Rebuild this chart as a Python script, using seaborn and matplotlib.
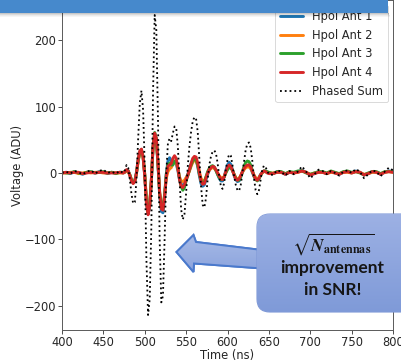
import numpy as np
import pandas as pd
import matplotlib
matplotlib.use("Agg")
import matplotlib.pyplot as plt
from matplotlib.patches import FancyBboxPatch, Polygon, Rectangle
from matplotlib.colors import LinearSegmentedColormap
import seaborn as sns

# ---- time grid (ns): coarse before/after the pulse, fine through it ----
time_ns = np.concatenate([np.arange(400, 471, 5),
                          np.arange(474, 651, 2),
                          np.arange(655, 801, 5)])

# ---- waveforms (ADU) ----
ant1 = ([0, 1, -1, 2, 0, -2, 1, 1, 0, 2, 1, -1, 1, 0, 1] +
        [0, 1, 4, 3, -3, -11, -15, -12, 1, 19,
         32, 35, 24, -4, -44, -62, -50, -12, 38, 58,
         50, 12, -34, -58, -60, -38, -2, 18, 23, 18,
         14, 16, 14, 4, -10, -18, -20, -15, -8, -2,
         6, 14, 20, 22, 20, 10, -4, -16, -20, -18,
         -10, -2, 4, 8, 9, 8, 4, -2, -8, -12,
         -12, -6, 4, 12, 16, 13, 5, -4, -10, -13,
         -12, -6, 1, 6, 9, 10, 10, 7, 1, -5,
         -9, -10, -7, -2, 1, 3, 2, 1, 0] +
        [-1, 2, 1, -2, 1, 0, 2, 4, 1, -3, -1, 2, 1, -1, 2,
         0, -2, 1, 2, 0, 3, 1, -3, -1, 2, 1, -2, 1, 3, 2])

ant2 = ([0, 0, 1, 1, -1, 0, 1, 0, 1, 1, 0, 0, 1, 0, 0] +
        [0, 1, 3, 2, -3, -10, -14, -12, -1, 17,
         30, 34, 24, -2, -40, -58, -48, -10, 38, 58,
         50, 14, -28, -50, -52, -34, -8, 2, 6, 8,
         14, 18, 16, 6, -6, -12, -13, -11, -7, -3,
         3, 10, 16, 19, 18, 12, 2, -8, -12, -12,
         -6, 0, 4, 7, 8, 7, 4, 0, -4, -7,
         -8, -5, 1, 6, 9, 8, 4, -2, -7, -9,
         -8, -4, 1, 5, 8, 9, 9, 7, 2, -3,
         -7, -9, -7, -3, 0, 2, 2, 1, 0] +
        [0, 1, 1, -1, 1, 0, 1, 3, 1, -2, 0, 1, 1, -1, 1,
         0, -1, 1, 1, 0, 2, 1, -2, -1, 1, 1, -1, 1, 2, 1])

ant3 = ([1, 0, 0, 2, 0, -1, 1, 2, 0, 1, 2, 0, 1, -1, 1] +
        [1, 2, 4, 3, -3, -11, -15, -12, 0, 18,
         31, 35, 25, -2, -42, -60, -48, -10, 40, 61,
         52, 14, -30, -52, -54, -32, -2, 12, 15, 12,
         12, 18, 18, 8, -8, -20, -26, -22, -12, -4,
         4, 12, 18, 21, 20, 12, -2, -12, -16, -14,
         -6, 2, 7, 10, 11, 9, 4, -2, -7, -10,
         -10, -6, 0, 5, 8, 8, 4, -2, -8, -11,
         -11, -6, 2, 10, 16, 18, 17, 12, 4, -5,
         -10, -12, -9, -4, 1, 3, 3, 2, 1] +
        [-1, 2, 2, -1, 2, 1, 3, 3, 0, -2, 0, 2, 2, 0, 3,
         1, -1, 2, 3, 1, 2, 0, -3, 0, 2, 2, -1, 2, 2, 2])

ant4 = ([0, 1, 0, 1, 1, -1, 0, 1, 0, 1, 1, 0, 0, 0, 1] +
        [0, 2, 5, 3, -4, -12, -16, -13, 0, 20,
         33, 36, 24, -5, -45, -63, -50, -10, 40, 60,
         52, 15, -30, -54, -56, -35, -5, 10, 12, 14,
         22, 26, 22, 8, -10, -20, -22, -18, -10, -4,
         5, 14, 22, 25, 24, 15, 0, -12, -17, -16,
         -8, 0, 5, 8, 10, 9, 5, 0, -5, -9,
         -10, -6, 2, 9, 12, 10, 4, -3, -9, -11,
         -9, -4, 2, 7, 10, 12, 12, 9, 3, -4,
         -9, -11, -8, -3, 1, 3, 2, 0, -1] +
        [-1, 1, 1, -2, 1, 0, 1, 3, 1, -3, -1, 1, 1, -1, 2,
         0, -2, 1, 2, 0, 2, 1, -3, -1, 2, 1, -2, 1, 2, 1])

phased_sum = ([0, 2, -1, 3, 1, -2, 2, 4, -1, 3, 5, 0, 2, -1, 3] +
              [0, 4, 12, 8, -10, -32, -46, -44, -10, 50,
               105, 124, 95, 10, -130, -214, -190, -80, 120, 238,
               215, 80, -100, -195, -185, -100, 0, 45, 52, 48,
               60, 70, 68, 40, -10, -55, -70, -62, -30, 10,
               40, 62, 78, 84, 82, 62, 22, -20, -48, -52,
               -38, -10, 12, 25, 32, 34, 30, 15, -5, -20,
               -24, -15, 5, 20, 28, 26, 12, -5, -18, -26,
               -27, -18, 0, 18, 35, 44, 46, 38, 18, -8,
               -26, -32, -26, -10, 5, 11, 9, 3, -2] +
              [-3, 4, 2, -4, 3, -2, 2, 10, 2, -8, -2, 5, 3, -2, 3,
               0, -4, 2, 4, 0, 6, 2, -8, -2, 4, 2, -5, 2, 8, 4])

labels = ["Hpol Ant 1", "Hpol Ant 2", "Hpol Ant 3", "Hpol Ant 4", "Phased Sum"]
xticks = [400, 450, 500, 550, 600, 650, 700, 750, 800]
yticks = [-200, -100, 0, 100, 200]

sns.set_style("ticks")
plt.rcParams["font.family"] = ["DejaVu Sans"]
FS = 8.3

W, H = 402, 361
fig = plt.figure(figsize=(W / 100, H / 100), dpi=100)
ax = fig.add_axes([62 / W, 31 / H, 331 / W, 330 / H])

palette = sns.color_palette("tab10", 4)
for vals, lab, col in zip([ant1, ant2, ant3, ant4], labels[:4], palette):
    sns.lineplot(x=time_ns, y=vals, ax=ax, color=col, linewidth=2.1,
                 label=lab, estimator=None)
sns.lineplot(x=time_ns, y=phased_sum, ax=ax, color="black", linewidth=1.3,
             linestyle=":", label=labels[4], estimator=None)

ax.set_xlim(400, 800)
ax.margins(y=0.05)
ax.set_xticks(xticks)
ax.set_yticks(yticks)
ax.set_xlabel("Time (ns)", fontsize=FS, labelpad=0)
ax.set_ylabel("Voltage (ADU)", fontsize=FS, labelpad=1)
ax.tick_params(labelsize=FS, length=2.6, width=0.7, pad=1.4, color="0.3")
for s in ax.spines.values():
    s.set_linewidth(0.7)
    s.set_color("0.35")
leg = ax.legend(loc="upper right", fontsize=FS, handlelength=2.0,
                borderaxespad=0.45, labelspacing=0.5, framealpha=0.85)
leg.get_frame().set_linewidth(0.6)

# ---- overlay in pixel coordinates: banner, arrow and callout ----
ov = fig.add_axes([0, 0, 1, 1], zorder=10)
ov.set_xlim(0, W)
ov.set_ylim(H, 0)
ov.axis("off")
ov.patch.set_alpha(0)

# banner with soft shadow
for i, a in enumerate([0.22, 0.14, 0.08, 0.04]):
    ov.add_patch(Rectangle((0, 13 + i), 389 + i * 0.5, 1, facecolor="black",
                           alpha=a, edgecolor="none"))
ov.add_patch(Rectangle((0, -2), 388, 15, facecolor="#4689cc", edgecolor="none"))

# arrow pointing left
arrow_pts = [(176.5, 252), (193.5, 235), (196, 242), (262, 250),
             (262, 268.5), (194, 263.5), (193.5, 272)]
arrow = Polygon(arrow_pts, closed=True, facecolor="none",
                edgecolor="#4a79cc", linewidth=1.4, joinstyle="miter")
ov.add_patch(arrow)
grad_a = LinearSegmentedColormap.from_list("ga", ["#aabde8", "#8aa2dc"])
img = ov.imshow(np.linspace(0, 1, 64).reshape(-1, 1), cmap=grad_a,
                extent=(170, 265, 275, 230), aspect="auto", zorder=1)
img.set_clip_path(arrow)
ov.add_patch(Polygon(arrow_pts, closed=True, facecolor="none",
                     edgecolor="#4a79cc", linewidth=1.4, zorder=2))

# rounded callout box
box = FancyBboxPatch((257, 214), 170, 98,
                     boxstyle="round,pad=0,rounding_size=13",
                     facecolor="none", edgecolor="#7d97d6", linewidth=0.8,
                     zorder=3)
ov.add_patch(box)
grad_b = LinearSegmentedColormap.from_list("gb", ["#9db1e4", "#7f9ad8"])
img2 = ov.imshow(np.linspace(0, 1, 64).reshape(-1, 1), cmap=grad_b,
                 extent=(255, 430, 313, 213), aspect="auto", zorder=3)
img2.set_clip_path(box)

plt.rcParams["mathtext.fontset"] = "stix"
ov.text(333, 244, r"$\sqrt{\boldsymbol{N}_{\mathbf{antennas}}}$",
        ha="center", va="center", fontsize=12.5, color="#161616", zorder=5)
ov.text(332, 268, "improvement", ha="center", va="center", fontsize=12.5,
        fontweight="bold", family=["Lato"], color="#161616", zorder=5)
ov.text(333, 290, "in SNR!", ha="center", va="center", fontsize=12.5,
        fontweight="bold", family=["Lato"], color="#161616", zorder=5)

fig.savefig("out.png", dpi=100)
